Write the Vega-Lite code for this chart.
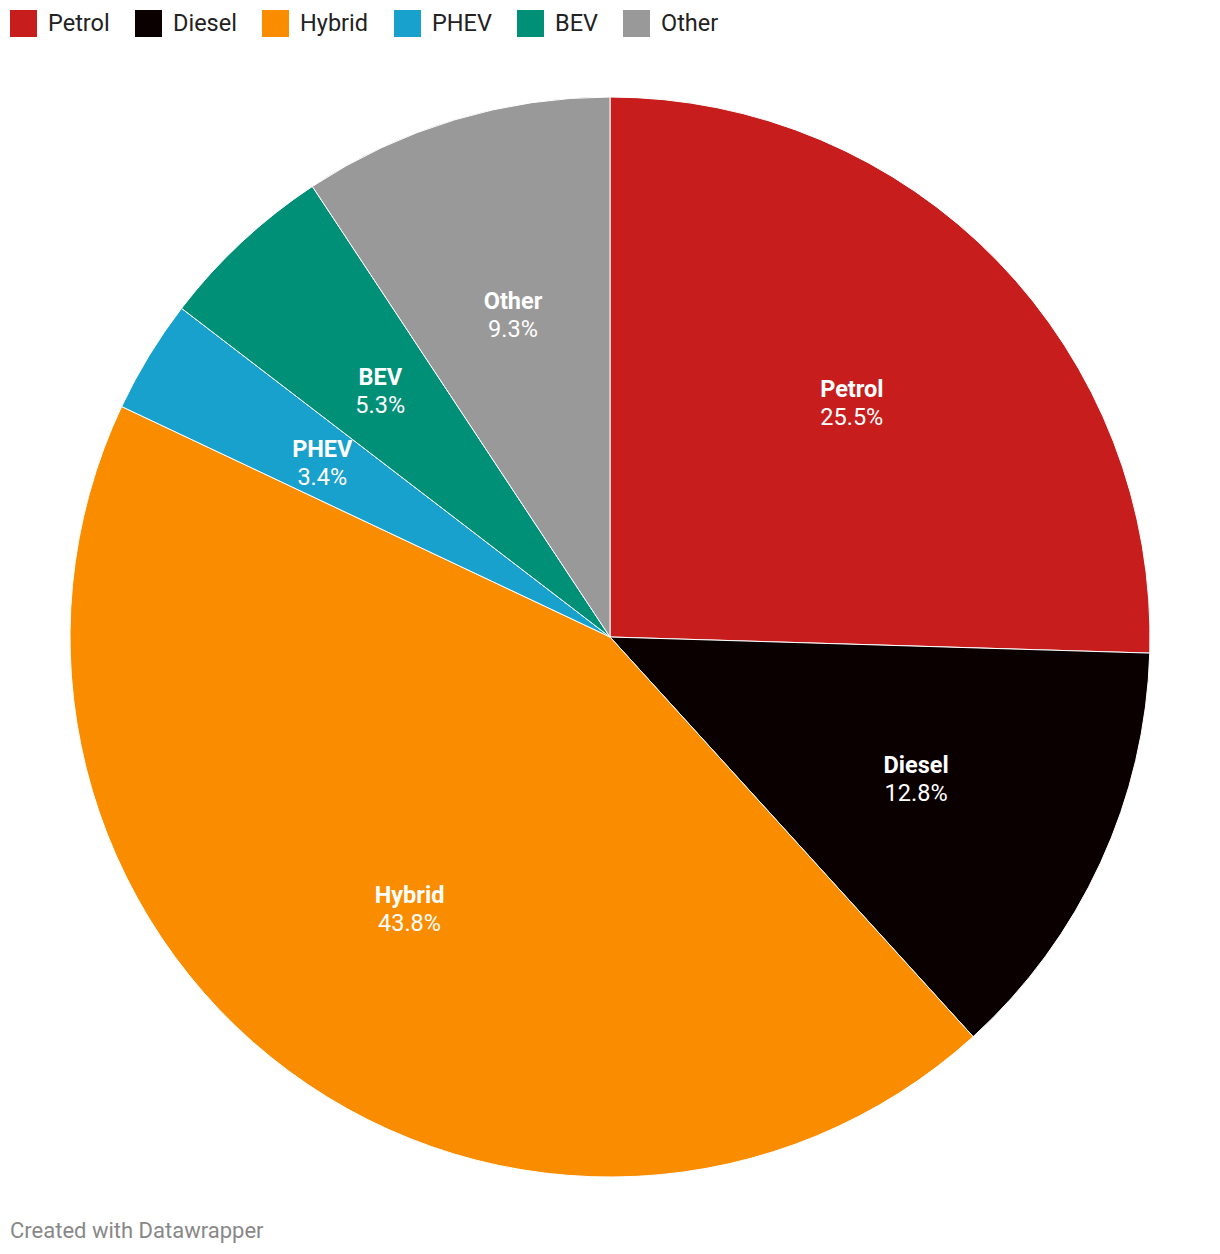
{
  "$schema": "https://vega.github.io/schema/vega-lite/v6.json",
  "autosize": "none",
  "padding": 0,
  "width": 1220,
  "height": 1274,
  "background": "white",
  "config": {"view": {"stroke": null}, "font": "Roboto"},
  "title": {
    "text": "Created with Datawrapper",
    "orient": "bottom",
    "anchor": "start",
    "frame": "group",
    "offset": -53,
    "dx": 10,
    "fontSize": 22,
    "fontWeight": "normal",
    "color": "#888888",
    "font": "Roboto"
  },
  "data": {
    "values": [
      {"type": "Petrol", "share": 0.255, "idx": 1},
      {"type": "Diesel", "share": 0.128, "idx": 2},
      {"type": "Hybrid", "share": 0.438, "idx": 3},
      {"type": "PHEV", "share": 0.034, "idx": 4},
      {"type": "BEV", "share": 0.053, "idx": 5},
      {"type": "Other", "share": 0.093, "idx": 6}
    ]
  },
  "encoding": {
    "theta": {"field": "share", "type": "quantitative", "stack": true},
    "order": {"field": "idx", "type": "quantitative"}
  },
  "layer": [
    {
      "mark": {"type": "arc", "outerRadius": 540, "stroke": "white", "strokeWidth": 1},
      "encoding": {
        "color": {
          "field": "type",
          "type": "nominal",
          "sort": ["Petrol", "Diesel", "Hybrid", "PHEV", "BEV", "Other"],
          "scale": {
            "domain": ["Petrol", "Diesel", "Hybrid", "PHEV", "BEV", "Other"],
            "range": ["#c71e1d", "#0b0000", "#fa8c00", "#18a1cd", "#009077", "#999999"]
          },
          "legend": {
            "orient": "none",
            "legendX": 10,
            "legendY": 10,
            "direction": "horizontal",
            "title": null,
            "padding": 0,
            "symbolType": "square",
            "symbolSize": 729,
            "symbolStrokeWidth": 0,
            "symbolOpacity": 1,
            "labelFontSize": 23.5,
            "labelFont": "Roboto",
            "labelColor": "#222222",
            "labelOffset": 11,
            "columnPadding": 25,
            "labelLimit": 200
          }
        }
      }
    },
    {
      "mark": {"type": "text", "radius": 337, "dy": -12, "fontSize": 23.5, "fontWeight": "bold", "fill": "white", "font": "Roboto", "baseline": "middle", "align": "center"},
      "encoding": {"text": {"field": "type", "type": "nominal"}}
    },
    {
      "mark": {"type": "text", "radius": 337, "dy": 16, "fontSize": 23.5, "fill": "white", "font": "Roboto", "baseline": "middle", "align": "center"},
      "encoding": {"text": {"field": "share", "type": "quantitative", "format": ".1%"}}
    }
  ]
}
